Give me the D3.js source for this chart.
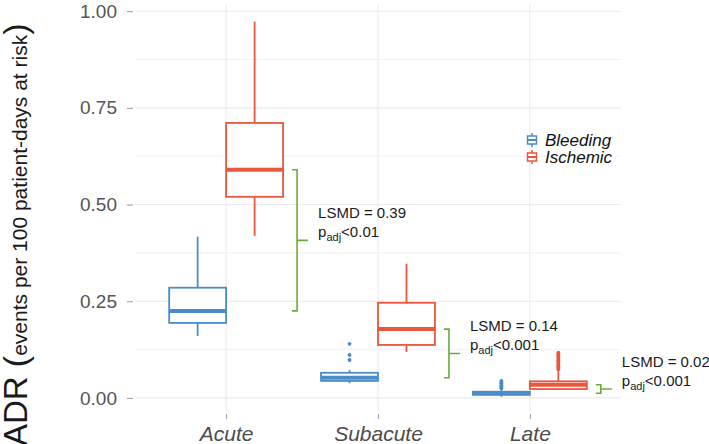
<!DOCTYPE html>
<html lang="en">
<head>
<meta charset="UTF-8">
<title>ADR boxplot</title>
<style>
  body { margin: 0; background: #fff; }
  text { font-family: "Liberation Sans", Arial, Helvetica, sans-serif; }
</style>
</head>
<body>
<script src="https://d3js.org/d3.v7.min.js"></script>
<script>
    // data
    let categories = ['Acute', 'Subacute', 'Late'];
    let groups = ['Bleeding', 'Ischemic'];

    let bleedingLow  = [0.160, 0.038, 0.003];
    let bleedingQ1   = [0.194, 0.044, 0.008];
    let bleedingMed  = [0.225, 0.052, 0.012];
    let bleedingQ3   = [0.285, 0.065, 0.016];
    let bleedingHigh = [0.417, 0.072, 0.022];
    let bleedingOut  = [[], [0.098, 0.111, 0.140], [0.025, 0.029, 0.031, 0.034, 0.038, 0.041, 0.044]];

    let ischemicLow  = [0.419, 0.119, 0.021];
    let ischemicQ1   = [0.520, 0.137, 0.023];
    let ischemicMed  = [0.590, 0.178, 0.034];
    let ischemicQ3   = [0.711, 0.246, 0.043];
    let ischemicHigh = [0.973, 0.347, 0.071];
    let ischemicOut  = [[], [], [0.074, 0.078, 0.082, 0.085, 0.089, 0.094, 0.097, 0.101, 0.106, 0.109, 0.113, 0.117]];

    let lsmdLabels = ['LSMD = 0.39', 'LSMD = 0.14', 'LSMD = 0.02'];
    let pLabels = ['<0.01', '<0.001', '<0.001'];

    let yTicks = [0, 0.25, 0.5, 0.75, 1];
    let yMinor = [0.125, 0.375, 0.625, 0.875];

    let width = 709;
    let height = 444;
    let panel = { left: 135, right: 621, top: 5, bottom: 413 };
    let colors = { Bleeding: '#4a8bca', Ischemic: '#e8573e' };
    let green = '#6aab3c';

    let stats = {
        Bleeding: { low: bleedingLow, q1: bleedingQ1, med: bleedingMed, q3: bleedingQ3, high: bleedingHigh, out: bleedingOut },
        Ischemic: { low: ischemicLow, q1: ischemicQ1, med: ischemicMed, q3: ischemicQ3, high: ischemicHigh, out: ischemicOut }
    };
    let boxes = [];
    groups.forEach(g => categories.forEach((c, i) => {
        let s = stats[g];
        boxes.push({ cat: c, group: g, low: s.low[i], q1: s.q1[i], med: s.med[i], q3: s.q3[i], high: s.high[i], out: s.out[i] });
    }));

    let xScale = d3.scalePoint()
        .domain(categories)
        .range([panel.left, panel.right])
        .padding(0.6);
    let step = xScale.step();
    let gScale = d3.scaleBand()
        .domain(groups)
        .range([-0.375 * step, 0.375 * step]);
    let yScale = d3.scaleLinear()
        .domain([-0.039, 1.016])
        .range([panel.bottom, panel.top]);

    let svg = d3.select('body')
        .append('svg')
        .attr('width', width)
        .attr('height', height);

    // grid
    let grid = svg.append('g');
    grid.selectAll('.minor').data(yMinor).enter().append('line')
        .attr('x1', panel.left).attr('x2', panel.right)
        .attr('y1', d => yScale(d)).attr('y2', d => yScale(d))
        .attr('stroke', '#efefef').attr('stroke-width', 0.8);
    grid.selectAll('.major').data(yTicks).enter().append('line')
        .attr('x1', panel.left).attr('x2', panel.right)
        .attr('y1', d => yScale(d)).attr('y2', d => yScale(d))
        .attr('stroke', '#ebebeb').attr('stroke-width', 1.1);
    grid.selectAll('.vert').data(categories).enter().append('line')
        .attr('x1', d => xScale(d)).attr('x2', d => xScale(d))
        .attr('y1', panel.top).attr('y2', panel.bottom)
        .attr('stroke', '#ebebeb').attr('stroke-width', 1.1);

    // axes
    let yAxis = d3.axisLeft(yScale)
        .tickValues(yTicks)
        .tickFormat(d3.format('.2f'))
        .tickSize(6)
        .tickPadding(10);
    let yg = svg.append('g')
        .attr('transform', 'translate(' + (panel.left - 2) + ',0)')
        .call(yAxis);
    yg.select('.domain').remove();
    yg.selectAll('line').attr('stroke', '#9a9a9a');
    yg.selectAll('text').attr('font-size', 19).attr('fill', '#555').attr('font-family', '"Liberation Sans", Arial, sans-serif');

    let xAxis = d3.axisBottom(xScale)
        .tickSize(5)
        .tickPadding(8);
    let xg = svg.append('g')
        .attr('transform', 'translate(0,' + (panel.bottom + 1) + ')')
        .call(xAxis);
    xg.select('.domain').remove();
    xg.selectAll('line').attr('stroke', '#9a9a9a');
    xg.selectAll('text').attr('font-size', 21).attr('font-style', 'italic')
        .attr('fill', '#4d4d4d').attr('font-family', '"Liberation Sans", Arial, sans-serif')
        .attr('dy', '0.68em');

    // y label
    let ylab = svg.append('text')
        .attr('transform', 'translate(27,446) rotate(-90)')
        .attr('text-anchor', 'start')
        .attr('fill', '#1a1a1a');
    ylab.append('tspan').attr('font-size', 33).text('ADR ');
    ylab.append('tspan').attr('font-size', 34).text('(');
    ylab.append('tspan').attr('font-size', 21).text('events per 100 patient-days at risk');
    ylab.append('tspan').attr('font-size', 34).text(')');

    // boxplots
    let bx = d => xScale(d.cat) + gScale(d.group);
    let bw = gScale.bandwidth();
    let bg = svg.selectAll('.box').data(boxes).enter().append('g');
    bg.append('line')
        .attr('x1', d => bx(d) + bw / 2).attr('x2', d => bx(d) + bw / 2)
        .attr('y1', d => yScale(d.high)).attr('y2', d => yScale(d.q3))
        .attr('stroke', d => colors[d.group]).attr('stroke-width', 1.8);
    bg.append('line')
        .attr('x1', d => bx(d) + bw / 2).attr('x2', d => bx(d) + bw / 2)
        .attr('y1', d => yScale(d.q1)).attr('y2', d => yScale(d.low))
        .attr('stroke', d => colors[d.group]).attr('stroke-width', 1.8);
    bg.append('rect')
        .attr('x', d => bx(d))
        .attr('y', d => yScale(d.q3))
        .attr('width', bw)
        .attr('height', d => yScale(d.q1) - yScale(d.q3))
        .attr('fill', '#fff')
        .attr('stroke', d => colors[d.group]).attr('stroke-width', 1.8);
    bg.append('line')
        .attr('x1', d => bx(d)).attr('x2', d => bx(d) + bw)
        .attr('y1', d => yScale(d.med)).attr('y2', d => yScale(d.med))
        .attr('stroke', d => colors[d.group]).attr('stroke-width', 4);
    bg.selectAll('circle').data(d => d.out.map(v => ({ v: v, d: d }))).enter().append('circle')
        .attr('cx', o => bx(o.d) + bw / 2)
        .attr('cy', o => yScale(o.v))
        .attr('r', 1.9)
        .attr('fill', o => colors[o.d.group]);

    // LSMD brackets
    let comps = categories.map((c, i) => ({ cat: c, top: ischemicMed[i], bot: bleedingMed[i], lsmd: lsmdLabels[i], p: pLabels[i] }));
    let cg = svg.selectAll('.comp').data(comps).enter().append('g');
    let bxX = d => xScale(d.cat) + gScale('Ischemic') + bw + 14;
    cg.append('path')
        .attr('d', d => {
            let x = bxX(d), y1 = yScale(d.top), y2 = yScale(d.bot);
            return 'M' + (x - 5) + ',' + y1 + 'H' + x + 'V' + y2 + 'H' + (x - 5) +
                'M' + x + ',' + ((y1 + y2) / 2) + 'H' + (x + 11);
        })
        .attr('fill', 'none').attr('stroke', green).attr('stroke-width', 1.6);
    cg.append('text')
        .attr('x', d => bxX(d) + 21)
        .attr('y', d => (yScale(d.top) + yScale(d.bot)) / 2 - 22)
        .attr('font-size', 15).attr('fill', '#1a1a1a')
        .text(d => d.lsmd);
    let pt = cg.append('text')
        .attr('x', d => bxX(d) + 21)
        .attr('y', d => (yScale(d.top) + yScale(d.bot)) / 2 - 3)
        .attr('font-size', 15).attr('fill', '#1a1a1a');
    pt.append('tspan').text('p');
    pt.append('tspan').attr('font-size', 11).attr('dy', 4).text('adj');
    pt.append('tspan').attr('dy', -4).text(d => d.p);

    // legend
    let lg = svg.append('g').attr('transform', 'translate(527,133)');
    let li = lg.selectAll('g').data(groups).enter().append('g')
        .attr('transform', (d, i) => 'translate(0,' + (i * 17) + ')');
    li.append('line').attr('x1', 5).attr('x2', 5).attr('y1', 0).attr('y2', 14)
        .attr('stroke', d => colors[d]).attr('stroke-width', 1.5);
    li.append('rect').attr('x', 0.5).attr('y', 3).attr('width', 9).attr('height', 8)
        .attr('fill', '#fff').attr('stroke', d => colors[d]).attr('stroke-width', 1.5);
    li.append('line').attr('x1', 0.5).attr('x2', 9.5).attr('y1', 7).attr('y2', 7)
        .attr('stroke', d => colors[d]).attr('stroke-width', 2);
    li.append('text').attr('x', 18).attr('y', 13)
        .attr('font-size', 17).attr('font-style', 'italic').attr('fill', '#111')
        .text(d => d);
</script>
</body>
</html>
